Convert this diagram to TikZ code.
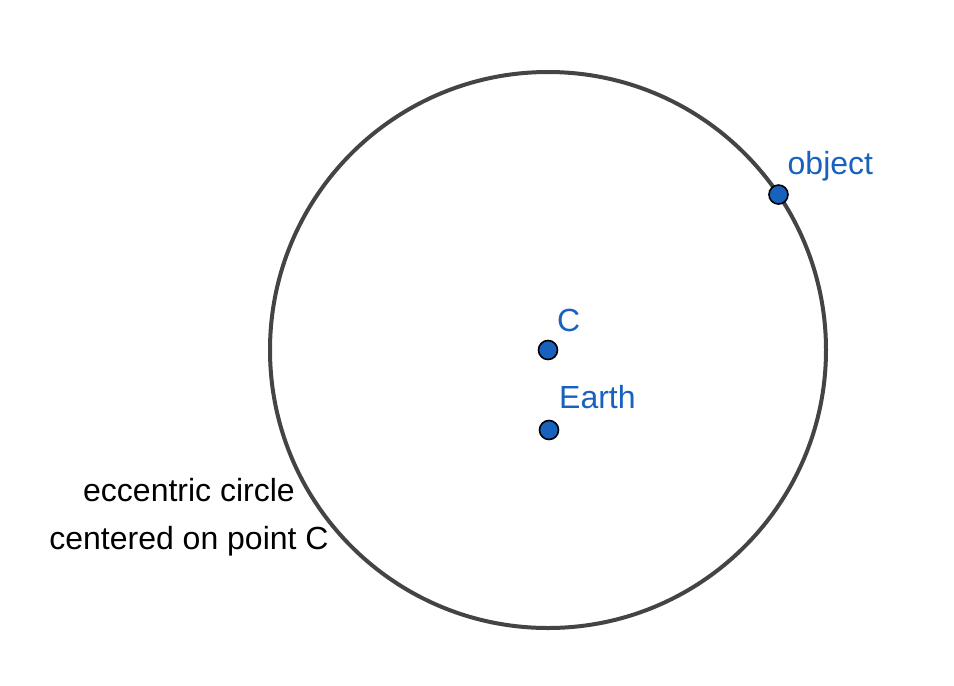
\documentclass[tikz,border=0pt]{standalone}
\usepackage{fontspec}
\setmainfont{Liberation Sans}
\usepackage{tikz}
\usetikzlibrary{positioning, calc}
\definecolor{myblue}{RGB}{24,98,190}
\definecolor{mygray}{RGB}{68,68,68}
\tikzset{
  orbit/.style={circle, draw=mygray, line width=4pt, inner sep=0pt,
    outer sep=0pt, minimum size=556pt},
  dot/.style={circle, draw=black, fill=myblue, line width=1.6pt,
    inner sep=0pt, minimum size=19pt},
  bluelbl/.style={text=myblue, font=\fontsize{32}{38}\selectfont,
    inner sep=0pt, anchor=base west},
  note/.style={text=black, font=\fontsize{32}{48}\selectfont,
    align=center, inner sep=0pt}
}

\begin{document}
\begin{tikzpicture}[x=1pt, y=-1pt]
  \useasboundingbox (0,0) rectangle (954,686);

  % eccentric circle and its centre
  \node[orbit] (circ) at (548,350) {};
  \node[dot] (cdot) at (circ.center) {};
  \node[dot] (earth) at (549,430) {};
  \node[dot] (obj) at (circ.34) {};

  % labels
  \node[bluelbl] (clbl) at ($(cdot)+(9,-19)$) {C};
  \node[bluelbl] (elbl) at ($(earth)+(10,-22)$) {Earth};
  \node[bluelbl] (olbl) at ($(obj)+(9,-20)$) {object};

  \node[note, anchor=north] (desc) at (189,478) {eccentric circle\\centered on point C};
\end{tikzpicture}
\end{document}
